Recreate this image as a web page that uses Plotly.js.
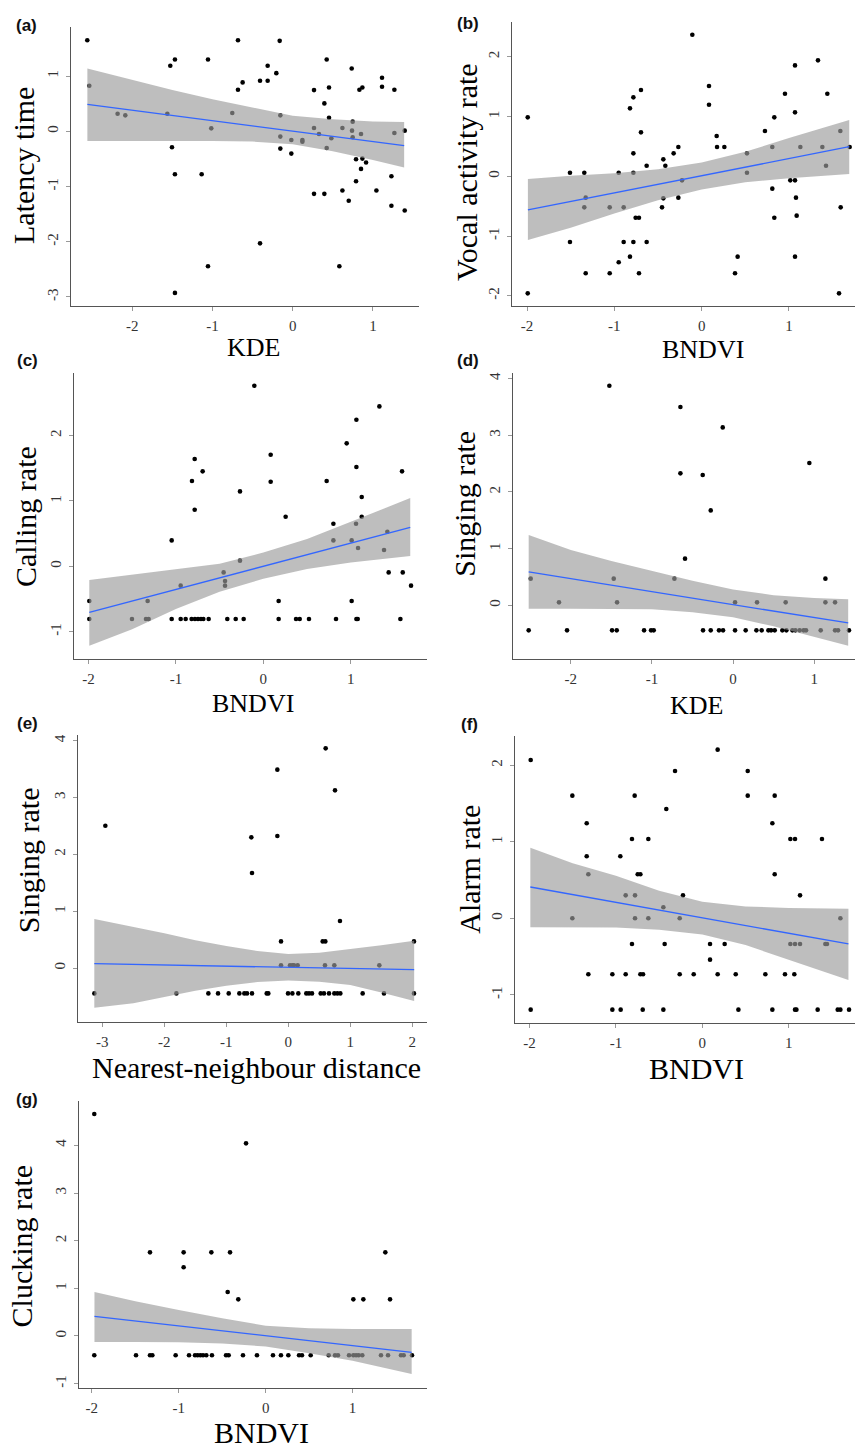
<!DOCTYPE html>
<html><head><meta charset="utf-8">
<script src="https://cdn.plot.ly/plotly-3.0.1.min.js"></script>
<style>html,body{margin:0;padding:0;background:#fff}#chart{width:855px;height:1449px}</style>
</head><body><div id="chart"></div>
<script>
// ---------- (a) Latency time vs KDE ----------
const aX = [-2.561,-2.536,-2.183,-2.087,-1.563,-1.526,-1.468,-1.505,-1.468,-1.468,
  -1.056,-1.135,-1.056,-1.015,-0.753,-0.682,-0.682,-0.624,-0.407,-0.407,
  -0.312,-0.312,-0.204,-0.162,-0.154,-0.154,-0.154,-0.017,-0.017,0.121,
  0.121,0.266,0.266,0.266,0.328,0.395,0.395,0.424,0.424,0.453,
  0.453,0.482,0.582,0.620,0.620,0.699,0.736,0.748,0.740,0.748,
  0.790,0.790,0.832,0.869,0.852,0.869,0.852,0.915,1.044,1.114,
  1.114,1.231,1.231,1.268,1.268,1.397,1.397];
const aY = [1.651,0.825,0.319,0.289,0.319,1.187,1.301,-0.289,-0.777,-2.928,
  1.301,-0.777,-2.446,0.054,0.331,1.651,0.753,0.886,0.916,-2.030,
  1.187,0.916,1.054,1.639,0.289,-0.096,-0.313,-0.404,-0.157,-0.157,
  -0.187,0.747,-1.133,0.060,-0.048,0.506,-1.133,1.301,-0.301,0.795,
  0.247,-0.127,-2.446,0.060,-1.072,-1.259,1.139,0.175,0.012,-0.108,
  -0.506,-0.904,0.753,0.795,-0.048,-0.494,-0.681,-0.566,-1.072,0.970,
  0.807,-0.813,-1.349,0.753,-0.030,0.012,-1.434];
const aBandX  = [-2.56,-2.0,-1.5,-1.0,-0.5,0,0.5,1.0,1.39];
const aBandHi = [1.14,0.93,0.75,0.58,0.43,0.28,0.22,0.18,0.17];
const aBandLo = [-0.175,-0.175,-0.175,-0.175,-0.185,-0.235,-0.36,-0.52,-0.657];
const aFitX = [-2.56,1.39];
const aFitY = [0.488,-0.259];
const aXTicks = [-2,-1,0,1];
const aYTicks = [-3,-2,-1,0,1];

// ---------- (b) Vocal activity rate vs BNDVI ----------
const bX = [-1.992,-1.992,-1.508,-1.508,-1.344,-1.328,-1.344,-1.328,-1.053,-1.053,
  -0.950,-0.950,-0.893,-0.893,-0.821,-0.821,-0.782,-0.782,-0.782,-0.782,
  -0.756,-0.718,-0.718,-0.695,-0.695,-0.630,-0.630,-0.454,-0.439,-0.439,
  -0.416,-0.321,-0.267,-0.267,-0.225,-0.107,0.084,0.084,0.172,0.176,
  0.260,0.382,0.412,0.519,0.519,0.725,0.809,0.809,0.832,0.832,
  0.954,1.015,1.069,1.069,1.069,1.069,1.080,1.088,1.130,1.332,
  1.382,1.439,1.424,1.588,1.592,1.573,1.695];
const bY = [0.987,-1.958,0.061,-1.099,0.061,-0.357,-0.519,-1.623,-0.519,-1.623,
  0.061,-1.439,-0.519,-1.099,1.138,-1.344,1.322,0.385,0.061,-1.099,
  -0.692,-0.692,-1.623,1.445,0.736,0.178,-1.099,-0.519,0.284,-0.368,
  0.178,0.385,0.491,-0.357,-0.067,2.370,1.511,1.199,0.675,0.491,
  0.491,-1.623,-1.344,0.385,0.061,0.758,0.491,-0.206,0.987,-0.692,
  1.383,-0.067,-0.067,1.857,1.071,-1.344,-0.357,-0.658,0.491,1.941,
  0.491,1.383,0.178,0.758,-0.519,-1.958,0.491];
const bBandX  = [-1.99,-1.5,-1.0,-0.5,0,0.5,1.0,1.69];
const bBandHi = [-0.045,0.01,0.05,0.12,0.23,0.41,0.64,0.943];
const bBandLo = [-1.065,-0.86,-0.62,-0.40,-0.22,-0.10,-0.03,0.039];
const bFitX = [-1.99,1.69];
const bFitY = [-0.563,0.496];
const bXTicks = [-2,-1,0,1];
const bYTicks = [-2,-1,0,1,2];

// ---------- (c) Calling rate vs BNDVI ----------
const cX = [-1.990,-1.990,-1.502,-1.323,-1.342,-1.312,-1.048,-1.048,-0.945,-0.945,
  -0.888,-0.816,-0.820,-0.785,-0.785,-0.782,-0.747,-0.713,-0.694,-0.686,
  -0.625,-0.454,-0.438,-0.438,-0.412,-0.316,-0.267,-0.267,-0.225,-0.103,
  0.084,0.084,0.175,0.175,0.255,0.374,0.416,0.522,0.724,0.801,
  0.801,0.831,0.953,1.010,1.010,1.060,1.064,1.064,1.064,1.079,
  1.083,1.125,1.125,1.327,1.380,1.418,1.433,1.567,1.586,1.594,1.689];
const cY = [-0.530,-0.805,-0.805,-0.530,-0.805,-0.805,0.397,-0.805,-0.295,-0.805,
  -0.805,1.304,-0.805,1.640,0.866,-0.805,-0.805,-0.805,1.452,-0.805,
  -0.805,-0.092,-0.224,-0.295,-0.805,-0.805,1.146,0.087,-0.805,2.761,
  1.707,1.294,-0.530,-0.805,0.759,-0.805,-0.805,-0.805,1.304,0.652,
  0.397,-0.805,1.880,0.397,-0.530,0.652,2.241,1.518,-0.805,-0.805,
  0.280,1.060,0.759,2.445,0.250,0.530,-0.092,-0.805,1.452,-0.092,-0.295];
const cBandX  = [-1.99,-1.5,-1.0,-0.5,0,0.5,1.0,1.68];
const cBandHi = [-0.209,-0.13,-0.05,0.04,0.21,0.42,0.68,1.044];
const cBandLo = [-1.212,-0.96,-0.65,-0.39,-0.19,-0.04,0.06,0.158];
const cFitX = [-1.99,1.68];
const cFitY = [-0.703,0.596];
const cXTicks = [-2,-1,0,1];
const cYTicks = [-1,0,1,2];

// ---------- (d) Singing rate vs KDE ----------
const dX = [-2.520,-2.495,-2.146,-2.047,-1.525,-1.492,-1.434,-1.471,-1.430,-1.097,
  -1.011,-0.978,-0.723,-0.649,-0.649,-0.592,-0.374,-0.370,-0.275,-0.275,
  -0.173,-0.123,-0.127,0.025,0.025,0.156,0.288,0.296,0.353,0.436,
  0.469,0.514,0.608,0.649,0.658,0.732,0.769,0.822,0.871,0.900,
  0.941,1.081,1.139,1.139,1.258,1.258,1.295,1.430];
const dY = [-0.441,0.470,0.053,-0.441,3.872,-0.441,-0.441,0.470,0.053,-0.441,
  -0.441,-0.441,0.470,3.496,2.327,0.823,2.297,-0.441,1.674,-0.441,
  -0.441,-0.441,3.137,0.053,-0.441,-0.441,-0.441,0.053,-0.441,-0.441,
  -0.441,-0.441,-0.441,0.053,-0.441,-0.441,-0.441,-0.441,-0.441,-0.441,
  2.509,-0.441,0.470,0.053,0.053,-0.441,-0.441,-0.441];
const dBandX  = [-2.52,-2.0,-1.5,-1.0,-0.5,0,0.5,1.0,1.42];
const dBandHi = [1.24,0.975,0.78,0.61,0.435,0.28,0.18,0.13,0.106];
const dBandLo = [-0.059,-0.06,-0.06,-0.07,-0.12,-0.21,-0.37,-0.55,-0.711];
const dFitX = [-2.52,1.42];
const dFitY = [0.588,-0.311];
const dXTicks = [-2,-1,0,1];
const dYTicks = [0,1,2,3,4];

// ---------- (e) Singing rate vs Nearest-neighbour distance ----------
const eX = [-3.129,-2.952,-1.806,-1.290,-1.134,-0.962,-0.790,-0.710,-0.667,-0.586,
  -0.597,-0.586,-0.349,-0.323,-0.177,-0.177,-0.118,-0.118,-0.005,0.027,
  0.065,0.065,0.091,0.151,0.161,0.290,0.333,0.382,0.522,0.554,
  0.597,0.575,0.602,0.591,0.656,0.742,0.742,0.753,0.790,0.833,
  0.839,1.199,1.468,1.543,2.027,2.027];
const eY = [-0.446,2.504,-0.446,-0.446,-0.446,-0.446,-0.446,-0.446,-0.446,-0.446,
  2.299,1.672,-0.446,-0.446,3.490,2.323,0.469,0.047,-0.446,0.047,
  -0.446,0.047,0.047,0.047,-0.446,-0.446,-0.446,-0.446,-0.446,0.469,
  0.469,-0.446,3.865,0.047,-0.446,0.047,-0.446,3.126,-0.446,0.827,
  -0.446,-0.446,0.047,-0.446,0.469,-0.446];
const eBandX  = [-3.13,-2.5,-2.0,-1.5,-1.0,-0.5,0,0.5,1.0,1.5,2.03];
const eBandHi = [0.862,0.727,0.61,0.49,0.387,0.30,0.246,0.27,0.33,0.40,0.481];
const eBandLo = [-0.698,-0.62,-0.504,-0.40,-0.31,-0.246,-0.217,-0.24,-0.30,-0.43,-0.581];
const eFitX = [-3.13,2.03];
const eFitY = [0.076,-0.029];
const eXTicks = [-3,-2,-1,0,1,2];
const eYTicks = [0,1,2,3,4];

// ---------- (f) Alarm rate vs BNDVI ----------
const fX = [-1.986,-1.986,-1.504,-1.504,-1.338,-1.338,-1.319,-1.319,-1.041,-1.041,
  -0.949,-0.945,-0.887,-0.887,-0.814,-0.814,-0.783,-0.779,-0.779,-0.748,
  -0.717,-0.717,-0.686,-0.690,-0.625,-0.625,-0.451,-0.436,-0.451,-0.417,
  -0.316,-0.262,-0.262,-0.224,-0.100,0.089,0.089,0.177,0.177,0.258,
  0.386,0.417,0.525,0.525,0.729,0.810,0.810,0.837,0.837,0.956,
  1.018,1.018,1.072,1.072,1.064,1.072,1.088,1.130,1.130,1.334,
  1.384,1.423,1.442,1.566,1.597,1.597,1.697];
const fY = [2.068,-1.193,1.602,0,1.241,0.810,0.575,-0.731,-0.731,-1.193,
  0.810,-1.193,0.300,-0.731,1.036,-0.335,1.602,0.300,0,0.575,
  0.575,-0.731,-0.731,-1.193,1.036,0,0.144,-0.335,-1.193,1.428,
  1.924,0,-0.731,0.300,-0.731,-0.335,-0.540,2.203,-0.731,-0.335,
  -0.731,-1.193,1.924,1.602,-0.731,1.241,-1.193,1.602,0.575,-0.731,
  1.036,-0.335,1.036,-0.335,-0.731,-1.193,-1.193,0.300,-0.335,-1.193,
  1.036,-0.335,-0.335,-1.193,-1.193,0,-1.193];
const fBandX  = [-1.99,-1.5,-1.0,-0.5,0,0.5,1.0,1.69];
const fBandHi = [0.923,0.72,0.555,0.36,0.215,0.155,0.135,0.126];
const fBandLo = [-0.118,-0.118,-0.12,-0.15,-0.21,-0.35,-0.54,-0.805];
const fFitX = [-1.99,1.69];
const fFitY = [0.409,-0.335];
const fXTicks = [-2,-1,0,1];
const fYTicks = [-1,0,1,2];

// ---------- (g) Clucking rate vs BNDVI ----------
const gX = [-1.972,-1.972,-1.492,-1.331,-1.331,-1.304,-1.036,-0.944,-0.944,-0.882,
  -0.813,-0.783,-0.752,-0.721,-0.683,-0.625,-0.618,-0.456,-0.426,-0.437,
  -0.410,-0.315,-0.261,-0.226,-0.100,0.084,0.176,0.261,0.384,0.418,
  0.518,0.725,0.798,0.832,0.959,1.009,1.040,1.070,1.112,1.009,
  1.124,1.327,1.408,1.377,1.431,1.557,1.588,1.684];
const gY = [4.657,-0.406,-0.406,1.755,-0.406,-0.406,-0.406,1.755,1.441,-0.406,
  -0.406,-0.406,-0.406,-0.406,-0.406,1.755,-0.406,-0.406,-0.406,0.923,
  1.755,0.769,-0.406,4.042,-0.406,-0.406,-0.406,-0.406,-0.406,-0.406,
  -0.406,-0.406,-0.406,-0.406,-0.406,-0.406,-0.406,-0.406,-0.406,0.769,
  0.769,-0.406,-0.406,1.755,0.769,-0.406,-0.406,-0.406];
const gBandX  = [-1.97,-1.5,-1.0,-0.5,0,0.5,1.0,1.68];
const gBandHi = [0.923,0.73,0.545,0.37,0.217,0.16,0.147,0.147];
const gBandLo = [-0.126,-0.126,-0.13,-0.16,-0.22,-0.36,-0.52,-0.797];
const gFitX = [-1.97,1.68];
const gFitY = [0.413,-0.343];
const gXTicks = [-2,-1,0,1];
const gYTicks = [-1,0,1,2,3,4];

const panelLabels = ['(a)','(b)','(c)','(d)','(e)','(f)','(g)'];
const xTitles = ['KDE','BNDVI','BNDVI','KDE','Nearest-neighbour distance','BNDVI','BNDVI'];
const yTitles = ['Latency time','Vocal activity rate','Calling rate','Singing rate','Singing rate','Alarm rate','Clucking rate'];

// ---------- layout geometry (pixels) ----------
const W = 855, H = 1449;
const panels = [
  {x:aX,y:aY,bx:aBandX,hi:aBandHi,lo:aBandLo,fx:aFitX,fy:aFitY,xt:aXTicks,yt:aYTicks,
   px:[71,419],py:[27,306],xr:[-2.764,1.575],yr:[-3.165,1.89],
   lab:[26.7,25.5],xtp:[253,348,26],ytp:[24,166]},
  {x:bX,y:bY,bx:bBandX,hi:bBandHi,lo:bBandLo,fx:bFitX,fy:bFitY,xt:bXTicks,yt:bYTicks,
   px:[512,855],py:[21.7,306],xr:[-2.172,1.756],yr:[-2.170,2.588],
   lab:[468,24],xtp:[703,350,26],ytp:[466.3,171.7]},
  {x:cX,y:cY,bx:cBandX,hi:cBandHi,lo:cBandLo,fx:cFitX,fy:cFitY,xt:cXTicks,yt:cYTicks,
   px:[74,426.7],py:[372.7,659],xr:[-2.165,1.868],yr:[-1.416,2.960],
   lab:[27,360.5],xtp:[253.3,703.3,26],ytp:[25,517]},
  {x:dX,y:dY,bx:dBandX,hi:dBandHi,lo:dBandLo,fx:dFitX,fy:dFitY,xt:dXTicks,yt:dYTicks,
   px:[512.7,855],py:[372.7,659],xr:[-2.717,1.504],yr:[-0.946,4.101],
   lab:[468,360],xtp:[696.7,705,26],ytp:[463.7,504]},
  {x:eX,y:eY,bx:eBandX,hi:eBandHi,lo:eBandLo,fx:eFitX,fy:eFitY,xt:eXTicks,yt:eYTicks,
   px:[77.7,427],py:[735,1021.7],xr:[-3.398,2.237],yr:[-0.944,4.10],
   lab:[27,723],xtp:[256.3,1067,30],ytp:[28.3,860]},
  {x:fX,y:fY,bx:fBandX,hi:fBandHi,lo:fBandLo,fx:fFitX,fy:fFitY,xt:fXTicks,yt:fYTicks,
   px:[515.3,855],py:[736,1023.3],xr:[-2.164,1.766],yr:[-1.371,2.381],
   lab:[469,724],xtp:[696.5,1068,30],ytp:[468.7,869]},
  {x:gX,y:gY,bx:gBandX,hi:gBandHi,lo:gBandLo,fx:gFitX,fy:gFitY,xt:gXTicks,yt:gYTicks,
   px:[79,426.7],py:[1100.7,1388.3],xr:[-2.148,1.853],yr:[-1.098,4.937],
   lab:[27,1099],xtp:[261.7,1432,30],ytp:[21.7,1246.7]}
];

const SERIF = 'Liberation Serif, Times New Roman, serif';
const traces = [];
const layout = {
  width: W, height: H,
  margin: {l:0, r:0, t:0, b:0},
  paper_bgcolor: '#fff', plot_bgcolor: '#fff',
  showlegend: false,
  annotations: []
};

panels.forEach((p, i) => {
  const n = i === 0 ? '' : String(i + 1);
  const xa = 'x' + n, ya = 'y' + n;
  // points (drawn first, the translucent band is laid over them)
  traces.push({type:'scatter', mode:'markers', x:p.x, y:p.y, xaxis:xa, yaxis:ya,
    marker:{color:'#000', size:4.6, line:{width:0}}, hoverinfo:'x+y'});
  // confidence band polygon
  traces.push({type:'scatter', mode:'lines',
    x:p.bx.concat(p.bx.slice().reverse()),
    y:p.hi.concat(p.lo.slice().reverse()),
    xaxis:xa, yaxis:ya, fill:'toself', fillcolor:'rgba(155,155,155,0.65)',
    line:{width:0, color:'rgba(0,0,0,0)'}, hoverinfo:'skip'});
  // fitted line
  traces.push({type:'scatter', mode:'lines', x:p.fx, y:p.fy, xaxis:xa, yaxis:ya,
    line:{color:'#3366ff', width:1.3}, hoverinfo:'skip'});

  const axisBase = () => ({showgrid:false, zeroline:false, showline:true, linecolor:'#555', linewidth:1,
    ticks:'outside', ticklen:4, tickwidth:1, tickcolor:'#999', ticklabelstandoff:2,
    tickfont:{family:SERIF, size:15, color:'#333'}, tickmode:'array', fixedrange:true});
  layout['xaxis' + n] = Object.assign(axisBase(), {
    domain:[p.px[0]/W, p.px[1]/W], range:p.xr, anchor:ya,
    tickvals:p.xt, ticktext:p.xt.map(String)});
  layout['yaxis' + n] = Object.assign(axisBase(), {
    domain:[1 - p.py[1]/H, 1 - p.py[0]/H], range:p.yr, anchor:xa,
    tickvals:p.yt, ticktext:p.yt.map(String), tickangle:-90});

  layout.annotations.push({xref:'paper', yref:'paper', x:p.lab[0]/W, y:1 - p.lab[1]/H,
    xanchor:'center', yanchor:'middle', showarrow:false,
    text:'<b>' + panelLabels[i] + '</b>', font:{family:'Liberation Sans, Arial, sans-serif', size:17, color:'#111'}});
  layout.annotations.push({xref:'paper', yref:'paper', x:p.xtp[0]/W, y:1 - p.xtp[1]/H,
    xanchor:'center', yanchor:'middle', showarrow:false,
    text:xTitles[i], font:{family:SERIF, size:p.xtp[2], color:'#000'}});
  layout.annotations.push({xref:'paper', yref:'paper', x:p.ytp[0]/W, y:1 - p.ytp[1]/H,
    xanchor:'center', yanchor:'middle', showarrow:false, textangle:-90,
    text:yTitles[i], font:{family:SERIF, size:30, color:'#000'}});
});

Plotly.newPlot('chart', traces, layout, {displayModeBar:false, staticPlot:true});
</script></body></html>
